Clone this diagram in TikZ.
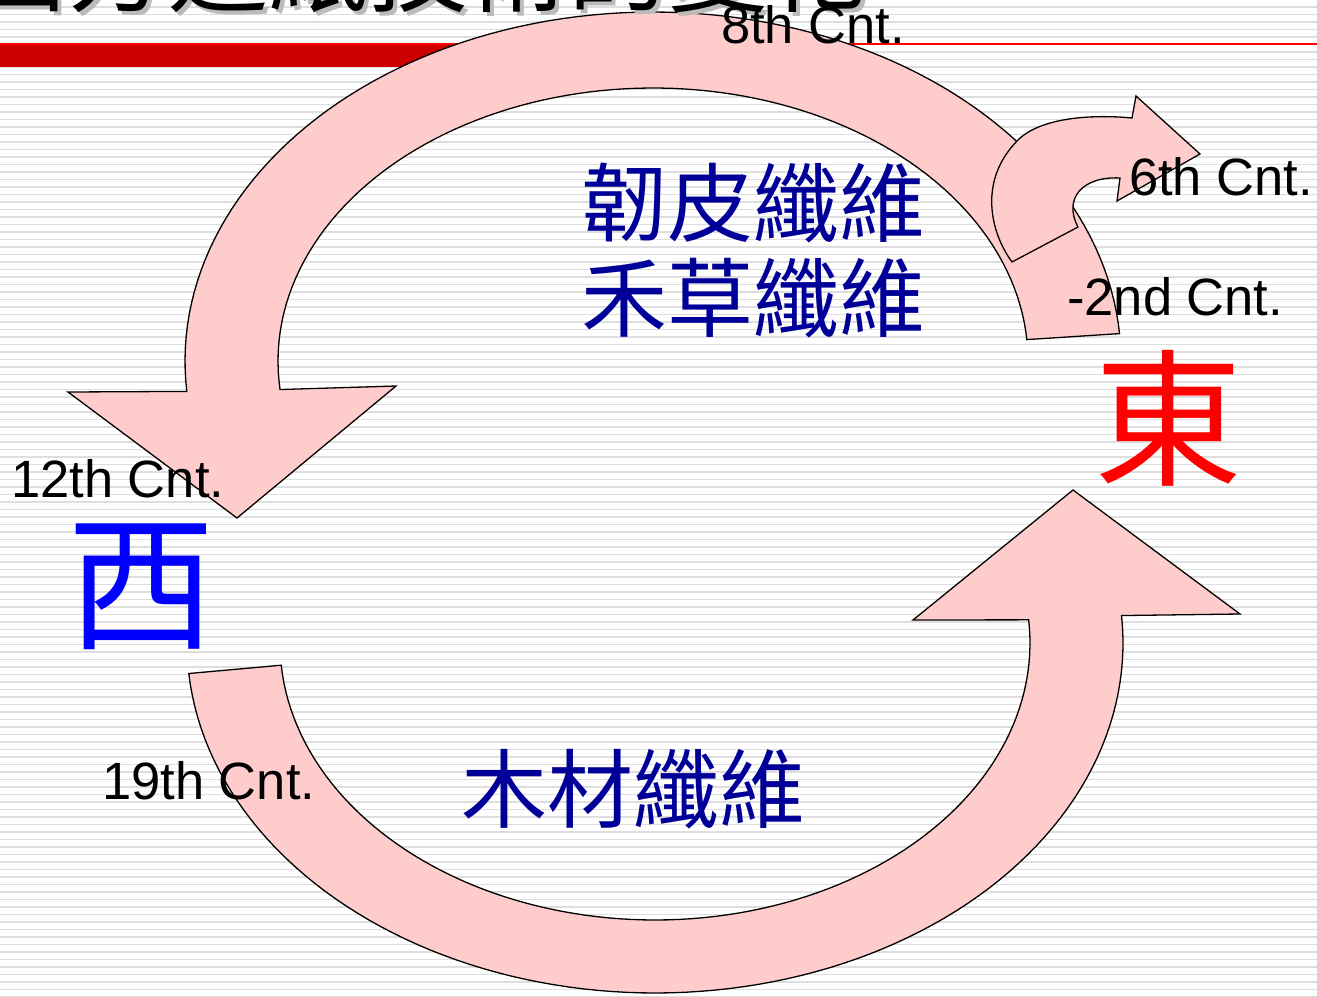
\documentclass[tikz,border=0pt]{standalone}
\usepackage{fontspec}
\setmainfont{Liberation Sans}
\newfontfamily\cjk{Noto Sans CJK TC}
\definecolor{pinkfill}{HTML}{FFCCCC}
\definecolor{navytext}{HTML}{000099}
\definecolor{barred}{HTML}{CC0000}
\definecolor{stripegray}{HTML}{DEDEDE}
\definecolor{shadowgray}{HTML}{BBBBBB}
\begin{document}
\begin{tikzpicture}[x=1pt,y=-1pt,
  arrowshape/.style={fill=pinkfill,draw=black,line width=1.3pt,line join=miter},
  lbl/.style={font=\fontsize{52.5}{60}\selectfont,inner sep=0pt,anchor=base west},
  fib/.style={font=\cjk\fontsize{86}{95}\selectfont,text=navytext,inner sep=0pt,align=left},
  dir/.style={font=\cjk\fontsize{148}{150}\selectfont,inner sep=0pt},
  titletext/.style={font=\cjk\fontsize{100}{110}\selectfont,inner sep=0pt,anchor=base west}]
\path[use as bounding box,clip] (0,0) rectangle (1317,996);
\fill[white] (0,0) rectangle (1317,996);
\foreach \i in {0,...,132} \fill[stripegray] (0,{6+7.5*\i}) rectangle (1317,{7.8+7.5*\i});
% header bar
\fill[barred] (0,43) rectangle (600,67);
\draw[red,line width=1.5pt] (0,44) -- (1317,44);
% top arc arrow
\draw[arrowshape] plot[domain=4.5:185,samples=100] ({653+468*cos(\x)},{361-349*sin(\x)})
  -- (68,392) -- (237,518) -- (396,386)
  -- plot[domain=186:4.5,samples=100] ({653+375*cos(\x)},{361-273*sin(\x)}) -- cycle;
% small branching arrow
\draw[arrowshape] (1012,262) .. controls (990,232) and (978,180) .. (1018,140)
  .. controls (1040,118) and (1090,114) .. (1132,118)
  -- (1136,96) -- (1200,154) -- (1117,201) -- (1120,178)
  .. controls (1082,176) and (1063,199) .. (1078,227) -- cycle;
% bottom arc arrow
\draw[arrowshape] plot[domain=185:364.5,samples=100] ({655+468*cos(\x)},{643-350*sin(\x)})
  -- (1240,614) -- (1073,490) -- (913,620)
  -- plot[domain=364.8:184.6,samples=100] ({655+375*cos(\x)},{643-277*sin(\x)}) -- cycle;
% title (cut off at top)
\node[titletext,text=shadowgray] (titleshadow) at (-28,8) {西方造紙技術的變化};
\node[titletext,text=black] (title) at (-32,4) {西方造紙技術的變化};
% century labels
\node[lbl] (c8) at (721,43) {8th Cnt.};
\node[lbl] (c6) at (1129,195) {6th Cnt.};
\node[lbl] (c2) at (1067,315) {-2nd Cnt.};
\node[lbl] (c12) at (11,497) {12th Cnt.};
\node[lbl] (c19) at (102,799) {19th Cnt.};
% fibre labels
\node[fib] (fibtop) at (753,251) {韌皮纖維\\禾草纖維};
\node[fib] (fibbot) at (633,789) {木材纖維};
% directions
\node[dir,text=red] (east) at (1168,418) {東};
\node[dir,text=blue] (west) at (141,587) {西};
\end{tikzpicture}
\end{document}
